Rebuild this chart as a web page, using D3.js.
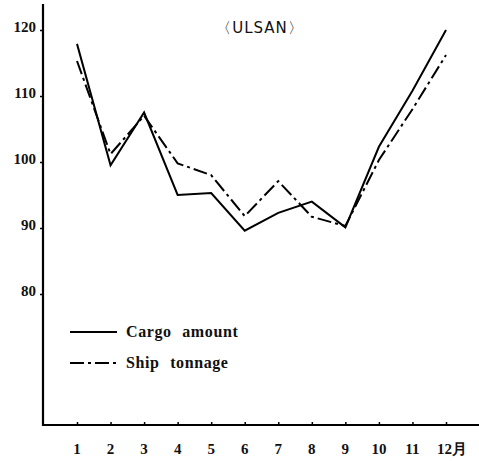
<!DOCTYPE html>
<html>
<head>
<meta charset="utf-8">
<script src="https://cdn.jsdelivr.net/npm/d3@7"></script>
<style>
  body { margin: 0; background: #fff; }
  text { fill: #111; }
</style>
</head>
<body>
<div id="chart"></div>
<script>
const months = [1, 2, 3, 4, 5, 6, 7, 8, 9, 10, 11, 12];
const monthLabels = ["1", "2", "3", "4", "5", "6", "7", "8", "9", "10", "11", "12月"];
const cargoAmount = [117.9, 99.5, 107.5, 95.0, 95.3, 89.6, 92.3, 94.0, 90.1, 102.3, 110.8, 120.0];
const shipTonnage = [115.3, 101.2, 107.0, 99.8, 98.0, 91.8, 97.1, 91.7, 90.3, 100.3, 108.0, 116.2];
const yTicks = [80, 90, 100, 110, 120];

const width = 479, height = 461;

const svg = d3.select("#chart").append("svg").attr("width", width).attr("height", height);

const x = d3.scaleLinear().domain([1, 12]).range([77, 446]);
const y = d3.scaleLinear().domain([80, 120]).range([294, 30]);

// axes, drawn by hand-ish to look like the printed figure
svg.append("line").attr("x1", 43).attr("x2", 43).attr("y1", 4).attr("y2", 426)
  .attr("stroke", "#000").attr("stroke-width", 2.2);
svg.append("line").attr("x1", 42).attr("x2", 479).attr("y1", 425).attr("y2", 425)
  .attr("stroke", "#000").attr("stroke-width", 2.2);

const yAxis = d3.axisLeft(y).tickValues(yTicks).tickSize(3).tickPadding(4);
const gy = svg.append("g").attr("transform", "translate(43,0)").call(yAxis);
gy.select(".domain").remove();
gy.selectAll(".tick line").attr("stroke", "#000").attr("stroke-width", 1.5);
gy.selectAll(".tick text")
  .style("font-family", "Liberation Serif").style("font-weight", "bold").style("font-size", "15px")
  .attr("fill", "#111").attr("dy", "0.1em");

const xAxis = d3.axisTop(x).tickValues(months).tickSize(3).tickFormat("");
const gx = svg.append("g").attr("transform", "translate(0,425)").call(xAxis);
gx.select(".domain").remove();
gx.selectAll(".tick line").attr("stroke", "#000").attr("stroke-width", 1.5);

svg.selectAll(".mlabel").data(months).enter().append("text")
  .attr("class", "mlabel")
  .attr("x", (d) => x(d) + (d === 12 ? 6 : 0))
  .attr("y", 454)
  .attr("text-anchor", "middle")
  .style("font-family", "Liberation Serif").style("font-weight", "bold").style("font-size", "15px")
  .text((d, i) => monthLabels[i]);

const line = d3.line().x((d, i) => x(months[i])).y((d) => y(d));

svg.append("path").datum(cargoAmount).attr("d", line)
  .attr("fill", "none").attr("stroke", "#000").attr("stroke-width", 2)
  .attr("stroke-linejoin", "miter");

svg.append("path").datum(shipTonnage).attr("d", line)
  .attr("fill", "none").attr("stroke", "#000").attr("stroke-width", 2)
  .attr("stroke-dasharray", "14,4,3,4");

// title
svg.append("text").attr("x", 260).attr("y", 33).attr("text-anchor", "middle")
  .style("font-family", "DejaVu Sans").style("font-size", "15px")
  .style("letter-spacing", "1px")
  .text("〈ULSAN〉");

// legend
const legend = [
  { name: "Cargo amount", dash: null, y: 332 },
  { name: "Ship tonnage", dash: "14,4,3,4", y: 363 }
];
const lg = svg.selectAll(".legend").data(legend).enter().append("g").attr("class", "legend");
lg.append("line").attr("x1", 70).attr("x2", 117).attr("y1", (d) => d.y).attr("y2", (d) => d.y)
  .attr("stroke", "#000").attr("stroke-width", 1.8)
  .attr("stroke-dasharray", (d) => d.dash);
lg.append("text").attr("x", 126).attr("y", (d) => d.y + 5)
  .style("font-family", "Liberation Serif").style("font-weight", "bold").style("font-size", "16px")
  .style("letter-spacing", "0.6px").style("word-spacing", "6px")
  .text((d) => d.name);
</script>
</body>
</html>
